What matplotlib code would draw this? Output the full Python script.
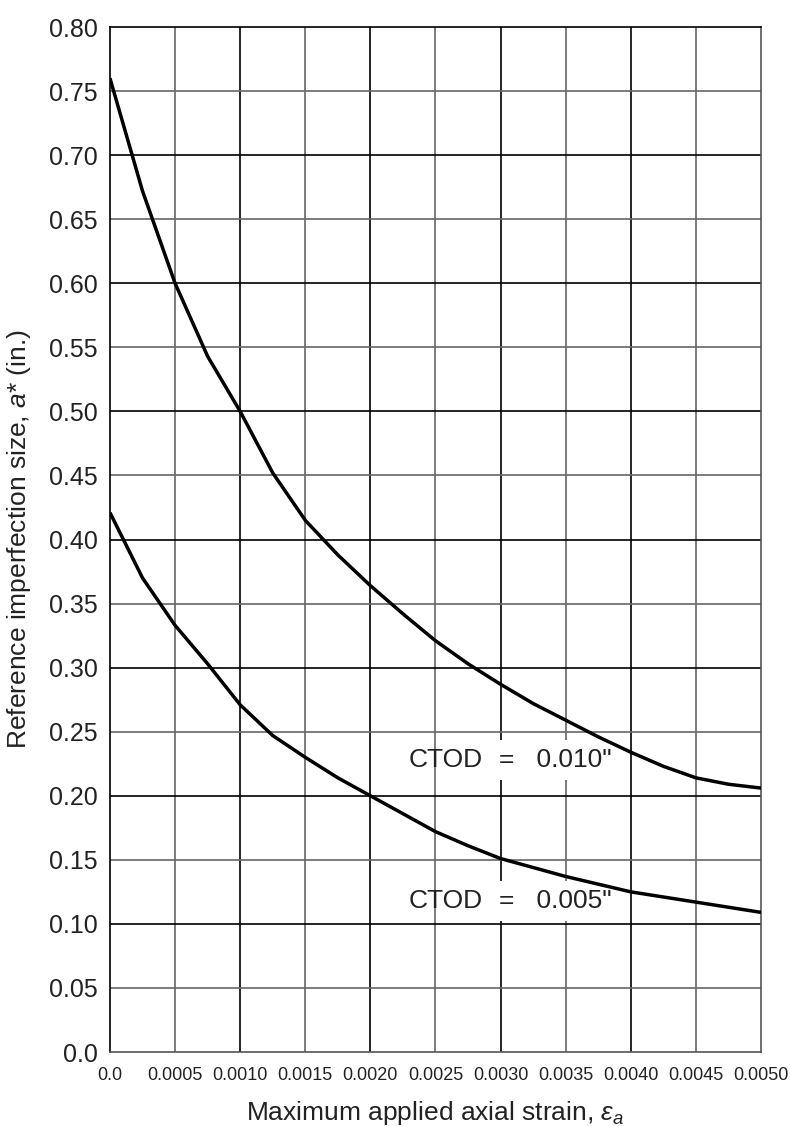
import matplotlib
matplotlib.use('Agg')
import matplotlib.pyplot as plt

plt.rcParams['font.family'] = ['Liberation Sans', 'DejaVu Sans']
plt.rcParams['mathtext.fontset'] = 'custom'
plt.rcParams['mathtext.rm'] = 'Liberation Sans'
plt.rcParams['mathtext.it'] = 'Liberation Sans:italic'

# Data

strain = [0.0, 0.00025, 0.0005, 0.00075, 0.0010, 0.00125, 0.0015, 0.00175, 0.0020,
          0.00225, 0.0025, 0.00275, 0.0030, 0.00325, 0.0035, 0.00375, 0.0040,
          0.00425, 0.0045, 0.00475, 0.0050]

a_ctod_010 = [0.760, 0.672, 0.600, 0.543, 0.500, 0.452, 0.415, 0.388, 0.364,
              0.342, 0.321, 0.303, 0.287, 0.272, 0.259, 0.246, 0.234,
              0.223, 0.214, 0.209, 0.206]

a_ctod_005 = [0.421, 0.370, 0.333, 0.303, 0.271, 0.247, 0.230, 0.214, 0.200,
              0.186, 0.172, 0.161, 0.151, 0.144, 0.137, 0.131, 0.125,
              0.121, 0.117, 0.113, 0.109]

x_ticks = [0.0, 0.0005, 0.0010, 0.0015, 0.0020, 0.0025, 0.0030, 0.0035, 0.0040, 0.0045, 0.0050]
x_labels = ['0.0', '0.0005', '0.0010', '0.0015', '0.0020', '0.0025', '0.0030',
            '0.0035', '0.0040', '0.0045', '0.0050']
y_ticks = [i * 0.05 for i in range(17)]
y_labels = ['0.0'] + ['%.2f' % v for v in y_ticks[1:]]

# Figure

fig = plt.figure(figsize=(7.9, 11.26), dpi=100)
ax = fig.add_axes([0.1392, 0.0657, 0.9633 - 0.1392, 0.976 - 0.0657])

ax.set_xlim(0, 0.005)
ax.set_ylim(0, 0.8)

# grid: black at major (0.001 / 0.1), grey at minor
for i, xv in enumerate(x_ticks[1:-1]):
    c = 'black' if (i + 1) % 2 == 0 else '#666666'
    ax.axvline(xv, color=c, lw=1.2, zorder=1)
for i, yv in enumerate(y_ticks[1:-1]):
    c = 'black' if (i + 1) % 2 == 0 else '#666666'
    ax.axhline(yv, color=c, lw=1.2, zorder=1)

ax.plot(strain, a_ctod_010, color='black', lw=2.5, zorder=5, solid_capstyle='butt')
ax.plot(strain, a_ctod_005, color='black', lw=2.5, zorder=5, solid_capstyle='butt')

for s in ['left', 'top']:
    ax.spines[s].set_color('black')
    ax.spines[s].set_linewidth(1.2)
for s in ['right', 'bottom']:
    ax.spines[s].set_color('#555555')
    ax.spines[s].set_linewidth(1.2)

ax.set_xticks(x_ticks)
ax.set_xticklabels(x_labels, fontsize=13)
ax.set_yticks(y_ticks)
ax.set_yticklabels(y_labels, fontsize=18)
ax.tick_params(axis='both', length=0, colors='#222222')
ax.tick_params(axis='x', pad=11)
ax.tick_params(axis='y', pad=9)

ax.set_xlabel(r'Maximum applied axial strain, $\varepsilon_a$', fontsize=19, color='#222222')
ax.xaxis.label.set_va('baseline')
ax.xaxis.set_label_coords(0.5, -0.0663)
ax.set_ylabel(r'Reference imperfection size, $a$* (in.)', fontsize=19, color='#222222')
ax.yaxis.set_label_coords(-0.118, 0.5)

# CTOD labels (white box behind the value part hides the grid only)
for yb, val in [(0.2222, '0.010"'), (0.1121, '0.005"')]:
    ax.text(0.00229, yb, 'CTOD', fontsize=19, color='#222222', va='baseline', ha='left', zorder=4)
    ax.text(0.00299, yb, '=   ' + val, fontsize=19, color='#222222', va='baseline', ha='left', zorder=4,
            bbox=dict(boxstyle='square,pad=0.3', facecolor='white', edgecolor='none'))

fig.savefig('out.png', dpi=100)
